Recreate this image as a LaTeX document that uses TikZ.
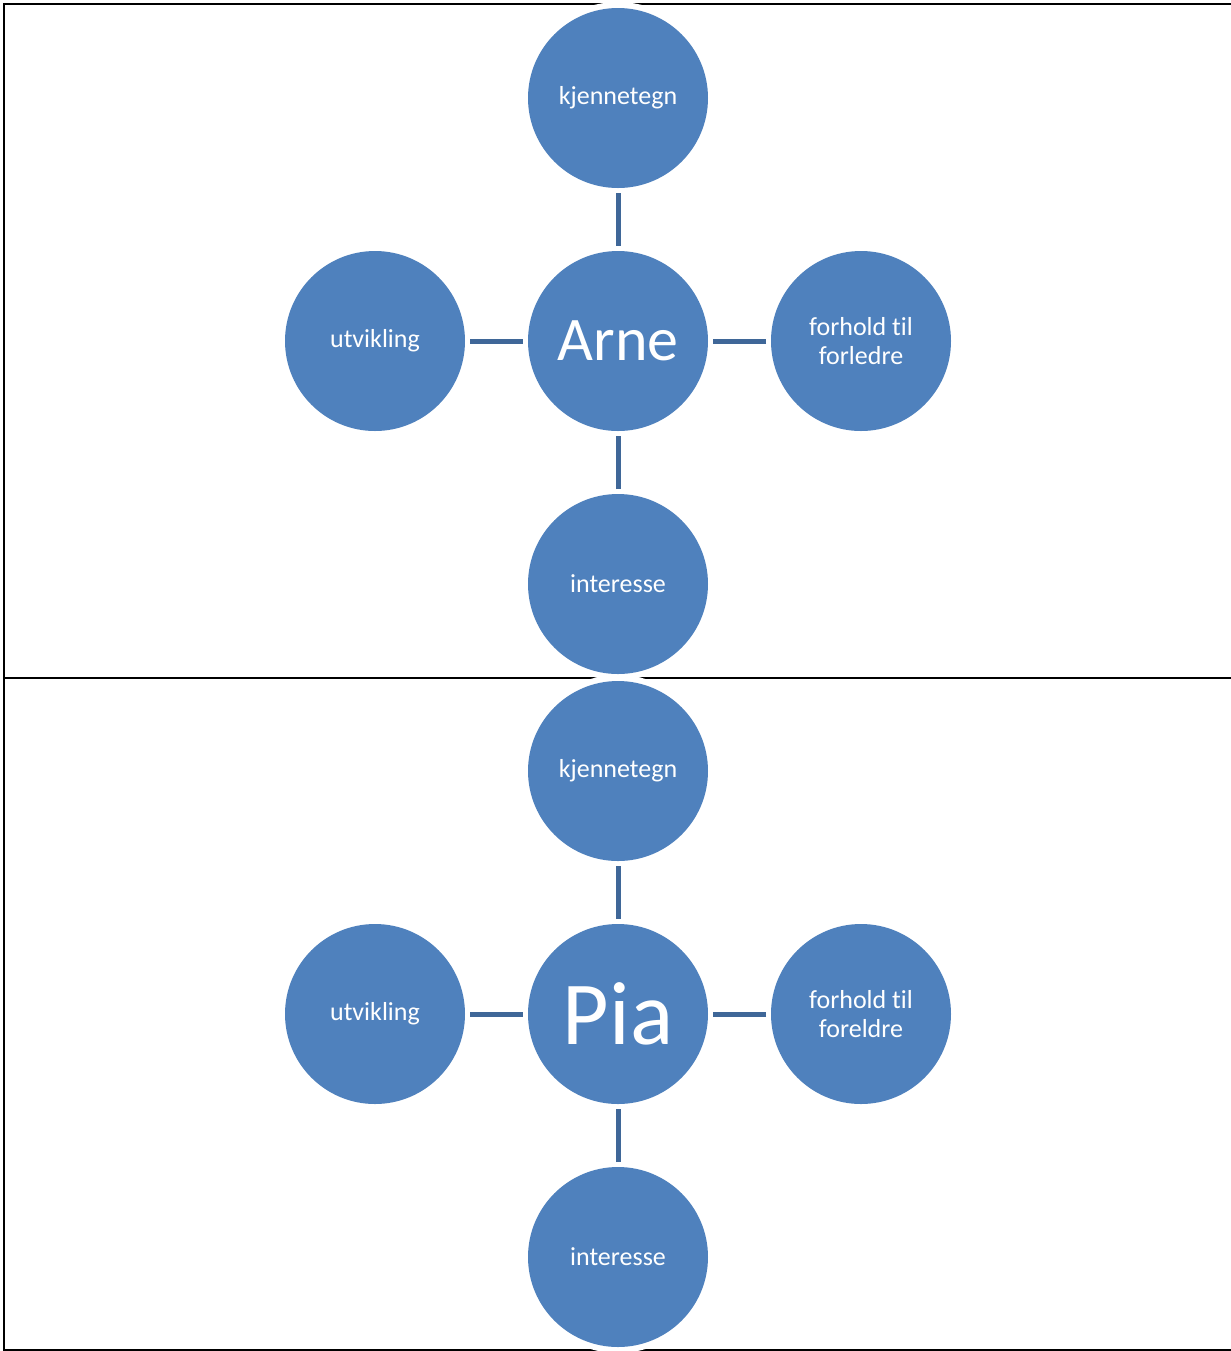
\documentclass[tikz,border=0pt]{standalone}
\usepackage{fontspec}
\setmainfont{Carlito}[Ligatures=NoCommon]
\usetikzlibrary{positioning}
\definecolor{accent}{HTML}{4F81BD}
\definecolor{linkblue}{HTML}{3F6798}
\newcommand{\gap}{31.5pt}
\tikzset{topic/.style={circle,fill=accent,minimum size=90pt,inner sep=0pt,outer sep=0pt,text=white,align=center,font=\fontsize{13}{14.5}\selectfont,preaction={draw=white,line width=6pt}}}
\tikzset{link/.style={draw=linkblue,line width=2.5pt,shorten <=2.5pt,shorten >=2.5pt}}

\begin{document}
\begin{tikzpicture}[x=0.5pt,y=-0.5pt]
    \useasboundingbox (0,0) rectangle (1231,1351);
    % draw the table rules
    \draw[line width=1pt] (1231,4) -- (4,4) -- (4,1350) -- (1231,1350);
    \draw[line width=1pt] (4,678) -- (1231,678);
    \foreach \i/\who/\yc/\fs/\kin in {1/Arne/341/31/forledre, 2/Pia/1014/45/foreldre}{
    % draw the centre circle
    \node[topic,font=\fontsize{\fs}{\fs}\selectfont] (hub\i) at (618,\yc) {\who};
    % draw the circles round it
    \node[topic,above=\gap of hub\i] (top\i) {kjennetegn};
    \node[topic,left=\gap of hub\i] (left\i) {utvikling};
    \node[topic,right=\gap of hub\i] (right\i) {forhold til\\\kin};
    \node[topic,below=\gap of hub\i] (bottom\i) {interesse};
    % draw the links
    \foreach \n in {top,left,right,bottom}
    \draw[link] (\n\i) -- (hub\i);
    }
\end{tikzpicture}
\end{document}
